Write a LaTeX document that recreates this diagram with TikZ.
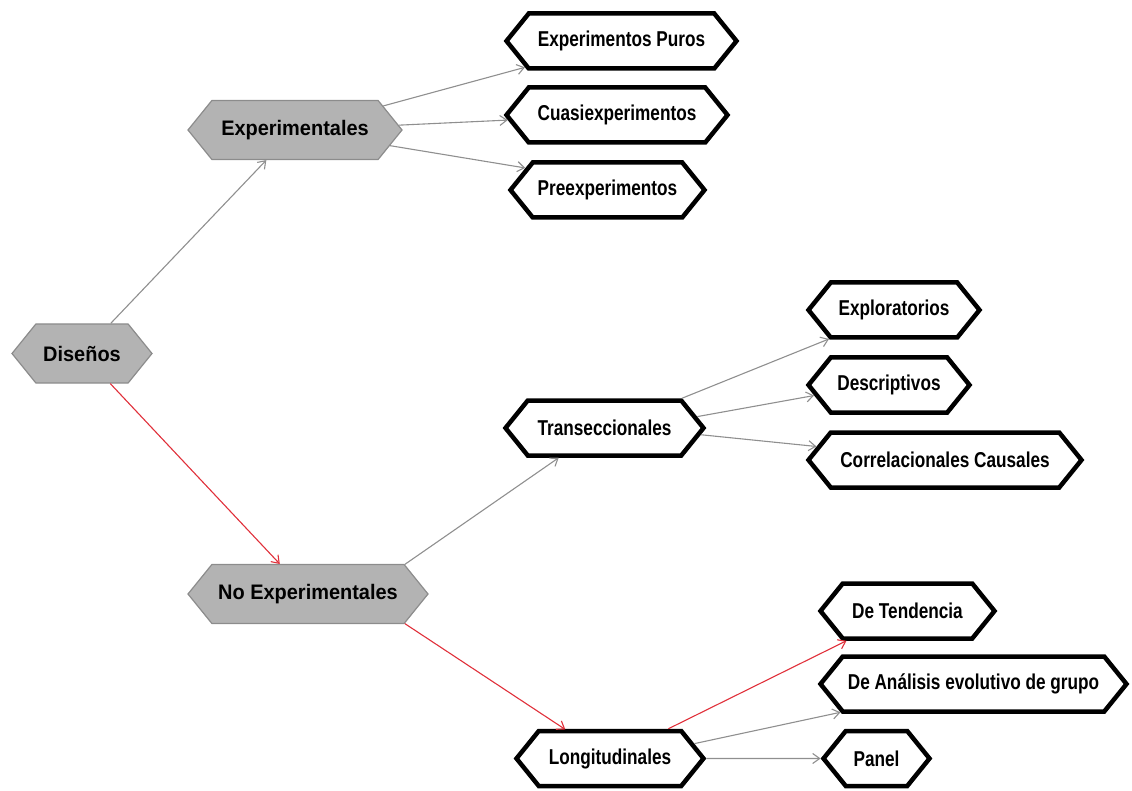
\documentclass[tikz,border=0pt]{standalone}
\usepackage{fontspec}
\setmainfont{Liberation Sans}
\newfontfamily\narrowfont{Liberation Sans}[FakeStretch=0.8]
\newfontfamily\labelfont{Liberation Sans}[FakeStretch=0.95]
\usetikzlibrary{shapes.symbols,arrows.meta}
\definecolor{hexgray}{HTML}{B3B3B3}
\definecolor{hexedge}{HTML}{8C8C8C}
\definecolor{linkgray}{HTML}{8F8F8F}
\definecolor{linkred}{HTML}{E0303A}
\begin{document}
\begin{tikzpicture}[x=1pt,y=-1pt,
  hexbase/.style={shape=signal, signal to=west and east, signal pointer angle=102,
    inner sep=0pt, align=center},
  graynode/.style={hexbase, fill=hexgray, draw=hexedge, line width=1.2pt,
    font=\labelfont\fontsize{21}{25}\selectfont\bfseries, minimum height=59},
  whitenode/.style={hexbase, fill=white, draw=black, line width=4.5pt,
    font=\narrowfont\fontsize{21.5}{25}\selectfont\bfseries, minimum height=55},
  link/.style={draw=linkgray, line width=1.1pt, -{Straight Barb[length=7pt,width=10pt]}},
  redlink/.style={link, draw=linkred},
]
\useasboundingbox (0,0) rectangle (1132,791);

% first and second level
\node[graynode, minimum width=140] (dis)   at (82,353.5) {Diseños};
\node[graynode, minimum width=214] (exp)   at (295,130)  {Experimentales};
\node[graynode, minimum width=240] (noexp) at (308,594)  {No Experimentales};

% experimental designs
\node[whitenode, minimum width=230] (puros) at (621.5,41) {Experimentos Puros};
\node[whitenode, minimum width=221] (cuasi) at (617,115)  {Cuasiexperimentos};
\node[whitenode, minimum width=194] (pre)   at (607.5,190) {Preexperimentos};

% non-experimental designs
\node[whitenode, minimum width=198] (trans) at (604.5,428) {Transeccionales};
\node[whitenode, minimum width=187] (long)  at (610,758.5) {Longitudinales};

\node[whitenode, minimum width=171] (explo) at (894,310)  {Exploratorios};
\node[whitenode, minimum width=161] (desc)  at (889,385)  {Descriptivos};
\node[whitenode, minimum width=273] (corr)  at (945,460)  {Correlacionales Causales};

\node[whitenode, minimum width=174] (tend)  at (907.5,611) {De Tendencia};
\node[whitenode, minimum width=306] (anal)  at (973.5,684) {De Análisis evolutivo de grupo};
\node[whitenode, minimum width=106] (panel) at (876.5,758.5) {Panel};

% connectors
\draw[link]    (dis) -- (exp);
\draw[redlink] (dis) -- (noexp);
\draw[link] (exp) -- (puros);
\draw[link] (exp) -- (cuasi);
\draw[link] (exp) -- (pre.165);
\draw[link]    (noexp.17.5) -- (trans.213);
\draw[redlink] (noexp.-17.7) -- (long.147);
\draw[link] (trans.21.5) -- (explo.204);
\draw[link] (trans.7.8) -- (desc.188.5);
\draw[link] (trans.-4.6) -- (corr.174);
\draw[redlink] (long.27) -- (tend.206);
\draw[link] (long.10.6) -- (anal.192);
\draw[link] (long) -- (panel);
\end{tikzpicture}
\end{document}
